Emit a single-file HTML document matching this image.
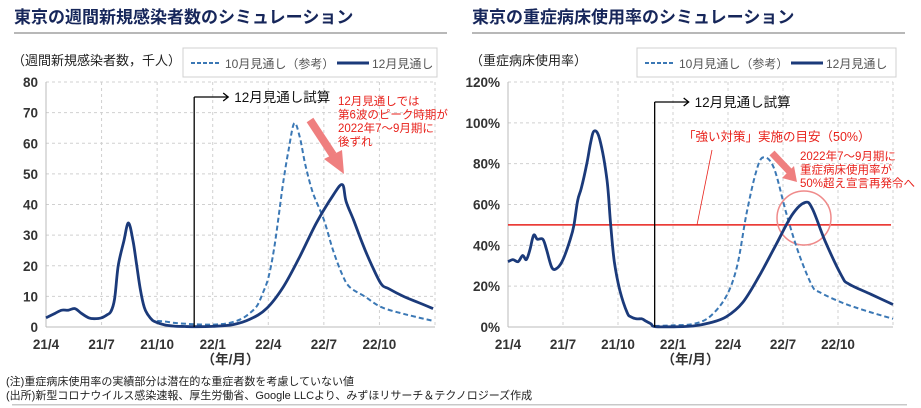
<!DOCTYPE html>
<html><head><meta charset="utf-8">
<style>
body{margin:0;background:#fff;width:921px;height:408px;overflow:hidden;font-family:"Liberation Sans","Noto Sans CJK JP",sans-serif;}
svg{display:block}
text{font-family:"Liberation Sans","Noto Sans CJK JP",sans-serif;}
</style></head>
<body>
<svg id="root" width="921" height="408"></svg>
<script>
// ---- Left chart data (months since 2021/4, weekly new cases in thousand) ----
const leftSolidMonths = [0,0.5,0.85,1.2,1.56,1.9,2.3,2.6,3.0,3.3,3.5,3.7,3.9,4.2,4.45,4.7,4.9,5.1,5.3,5.5,5.75,5.98,6.4,6.9,7.5,8.1,9.0,10.1,11.0,11.9,12.8,13.7,14.6,15.5,16.0,16.2,16.6,17.1,17.6,18.1,18.5,19.3,20.1,20.9];
const leftSolidValues = [3,4.5,5.5,5.5,6,4.5,3,2.7,3,4,5,9,20,28,34,28,20,12,6.5,4,2.2,1.5,0.7,0.3,0.15,0.1,0.2,0.8,2.5,6,13,23,34,43,46.5,41,35,27,20,14,12.5,10,8,6];
const leftDashMonths = [6.0,6.4,7.0,8.0,9.0,9.8,10.5,11.0,11.4,11.7,12.0,12.3,12.6,12.8,13.1,13.4,13.7,14.0,14.4,15.0,15.5,16.0,16.4,17.2,18.1,19.5,20.9];
const leftDashValues = [2,1.8,1.3,0.9,0.8,1.2,2.5,4.5,7,11,16,25,38,47,58,66.5,62,53,44,35,25,17,13,10,6.5,4,2];
const leftYTicks = [0,10,20,30,40,50,60,70,80];
// ---- Right chart data (months since 2021/4, ICU bed usage %) ----
const rightSolidMonths = [0,0.27,0.55,0.8,1.0,1.2,1.4,1.6,1.9,2.1,2.4,2.7,3.0,3.4,3.6,3.8,4.0,4.3,4.5,4.7,5.0,5.4,5.6,5.8,6.1,6.5,6.7,7.0,7.3,7.5,7.8,8.0,9.0,10.1,11.0,11.9,12.8,13.7,14.6,15.5,16.2,16.6,17.3,18.2,18.6,19.8,21.0];
const rightSolidValues = [32,33,32,35,33,38,45,43,43,38,29,29,33,43,50,62,68,80,90,96,92,72,50,32,18,7,5,4,4,3,1.5,0.2,0.1,0.5,2,5,12,25,40,55,61,58,42,25,21,16,11];
const rightDashMonths = [8.0,9.0,10.1,11.0,11.9,12.5,13.0,13.5,13.9,14.5,15.2,15.9,16.6,17.0,18.2,19.5,21.0];
const rightDashValues = [0.5,0.8,1.5,5,15,30,55,75,83,78,55,35,20,17,12,8,4];
const rightYTicks = [0,20,40,60,80,100,120];
const xTickLabels = ["21/4","21/7","21/10","22/1","22/4","22/7","22/10"];
const xTickMonths = [0,3,6,9,12,15,18];

const NS="http://www.w3.org/2000/svg";
const root=document.getElementById('root');
function el(tag,attrs,parent){const e=document.createElementNS(NS,tag);for(const k in attrs)e.setAttribute(k,attrs[k]);(parent||root).appendChild(e);return e;}
function txt(s,attrs,parent){const e=el('text',attrs,parent);e.textContent=s;return e;}
function smoothPath(p){
  let d='M'+p[0][0].toFixed(1)+','+p[0][1].toFixed(1);
  for(let i=0;i<p.length-1;i++){
    const p0=p[i-1]||p[i],p1=p[i],p2=p[i+1],p3=p[i+2]||p2;
    const c1=[p1[0]+(p2[0]-p0[0])/6,p1[1]+(p2[1]-p0[1])/6];
    const c2=[p2[0]-(p3[0]-p1[0])/6,p2[1]-(p3[1]-p1[1])/6];
    d+=' C'+c1.map(v=>v.toFixed(1)).join(',')+' '+c2.map(v=>v.toFixed(1)).join(',')+' '+p2.map(v=>v.toFixed(1)).join(',');
  }
  return d;
}

function drawChart(cfg){
  const g=el('g',{});
  
  
  const X=m=>cfg.x0+(cfg.x1-cfg.x0)*m/21;
  const Y=v=>cfg.yb-(cfg.yb-cfg.yt)*v/cfg.ymax;
  const t=txt(cfg.title,{x:cfg.tx,y:23,'font-size':17,'font-weight':'bold',fill:'#16265a'},g);
  
  el('rect',{x:cfg.tx,y:32,width:cfg.tw,height:2,fill:'#b8b8b8'},g);
  cfg.yticks.forEach(v=>{
    if(v>0){const l=el('line',{x1:cfg.x0,x2:cfg.x1,y1:Y(v),y2:Y(v),stroke:'#d0d0d0','stroke-dasharray':'3,3','stroke-width':1},g);
      }
    const lab=txt(cfg.fmt(v),{x:cfg.x0-8,y:Y(v)+5,'font-size':13.5,'font-weight':'bold','text-anchor':'end',fill:'#333'},g);
    
  });
  xTickMonths.forEach((m,i)=>{
    if(m>0){const l=el('line',{x1:X(m),x2:X(m),y1:cfg.yt,y2:cfg.yb,stroke:'#d0d0d0','stroke-dasharray':'3,3'},g);
      }
    const lab=txt(xTickLabels[i],{x:X(m),y:cfg.yb+22,'font-size':13.5,'font-weight':'bold','text-anchor':'middle',fill:'#333'},g);
    
  });
  el('line',{x1:X(21),x2:X(21),y1:cfg.yt,y2:cfg.yb,stroke:'#d0d0d0','stroke-dasharray':'3,3'},g);
  el('line',{x1:cfg.x0,x2:cfg.x1,y1:cfg.yt,y2:cfg.yt,stroke:'#d0d0d0','stroke-dasharray':'3,3'},g);
  el('line',{x1:cfg.x0,x2:cfg.x0,y1:cfg.yt,y2:cfg.yb,stroke:'#bbb'},g);
  el('line',{x1:cfg.x0,x2:cfg.x1,y1:cfg.yb,y2:cfg.yb,stroke:'#bbb'},g);
  const xl=txt('（年/月）',{x:(X(9)+X(12))/2-10,y:cfg.yb+37,'font-size':13.5,'font-weight':'bold','text-anchor':'middle',fill:'#333'},g);
  
  const yl=txt(cfg.ylabel,{x:cfg.tx-2,y:65,'font-size':13,fill:'#222'},g);
  
  const lg=el('g',{},g);
  
  el('rect',{x:cfg.lx,y:48,width:cfg.lw,height:29,fill:'#fff',stroke:'#d0d0d0'},lg);
  el('line',{x1:cfg.lx+8,x2:cfg.lx+38,y1:63,y2:63,stroke:'#3b78b5','stroke-width':2,'stroke-dasharray':'4,2'},lg);
  const l1=txt('10月見通し（参考）',{x:cfg.lx+42,y:68,'font-size':12,fill:'#555'},lg);
  
  el('line',{x1:cfg.lx+154,x2:cfg.lx+186,y1:63,y2:63,stroke:'#1b3a7a','stroke-width':3},lg);
  const l2=txt('12月見通し',{x:cfg.lx+189,y:68,'font-size':12,fill:'#555'},lg);
  
  cfg.extra && cfg.extra(g,X,Y);
  const pts=(ms,vs)=>ms.map((m,i)=>[X(m),Y(vs[i])]);
  const d=el('path',{d:smoothPath(pts(cfg.dm,cfg.dv)),fill:'none',stroke:'#3b78b5','stroke-width':2,'stroke-dasharray':'5,3'},g);
  
  const s=el('path',{d:smoothPath(pts(cfg.sm,cfg.sv)),fill:'none',stroke:'#1b3a7a','stroke-width':2.8,'stroke-linejoin':'round'},g);
  
  const fx=X(8.0);
  const mk=el('g',{},g);
  
  el('line',{x1:fx,x2:fx,y1:cfg.my,y2:cfg.yb,stroke:'#000','stroke-width':1.3},mk);
  el('line',{x1:fx,x2:fx+34,y1:cfg.my,y2:cfg.my,stroke:'#000','stroke-width':1.3},mk);
  el('polyline',{points:`${fx+29},${cfg.my-4} ${fx+34},${cfg.my} ${fx+29},${cfg.my+4}`,fill:'none',stroke:'#000','stroke-width':1.3},mk);
  txt('12月見通し試算',{x:fx+40,y:cfg.my+5,'font-size':13.5,fill:'#111'},mk);
}

drawChart({name:'weekly-cases-chart',title:'東京の週間新規感染者数のシミュレーション',tx:14,tw:433,
  x0:46,x1:435,yt:82,yb:327,ymax:80,yticks:leftYTicks,fmt:v=>String(v),ylabel:'（週間新規感染者数，千人）',
  lx:183,lw:254,sm:leftSolidMonths,sv:leftSolidValues,dm:leftDashMonths,dv:leftDashValues,my:97,
  extra:(g,X,Y)=>{
    const a=el('g',{},g);
    el('line',{x1:310,y1:120,x2:333,y2:155,stroke:'#ef7f7f','stroke-width':8},a);
    el('polygon',{points:'324,159 344,174 342,150',fill:'#ef7f7f'},a);
    ['12月見通しでは','第6波のピーク時期が','2022年7～9月期に','後ずれ'].forEach((s,i)=>txt(s,{x:338,y:105+i*13.5,'font-size':11.5,fill:'#e8211b'},a));
  }});

drawChart({name:'icu-usage-chart',title:'東京の重症病床使用率のシミュレーション',tx:472,tw:433,
  x0:508,x1:893,yt:82,yb:327,ymax:120,yticks:rightYTicks,fmt:v=>v+'%',ylabel:'（重症病床使用率）',
  lx:637,lw:259,sm:rightSolidMonths,sv:rightSolidValues,dm:rightDashMonths,dv:rightDashValues,my:102,
  extra:(g,X,Y)=>{
    const th=el('line',{x1:X(0),x2:891,y1:Y(50),y2:Y(50),stroke:'#e8211b','stroke-width':1.5},g);
    
    const a=el('g',{},g);
    el('line',{x1:697,y1:Y(50),x2:712,y2:150,stroke:'#e8211b','stroke-width':0.8},a);
    txt('「強い対策」実施の目安（50%）',{x:683,y:141,'font-size':12.5,fill:'#e8211b'},a);
    el('line',{x1:772,y1:153,x2:790,y2:172,stroke:'#ef7f7f','stroke-width':7},a);
    el('polygon',{points:'782,178 797,182 794,166',fill:'#ef7f7f'},a);
    ['2022年7～9月期に','重症病床使用率が','50%超え宣言再発令へ'].forEach((s,i)=>txt(s,{x:800,y:160+i*13.5,'font-size':11.5,fill:'#e8211b'},a));
    el('circle',{cx:804,cy:218,r:27,fill:'none',stroke:'#ef8a8a','stroke-width':1.5},a);
  }});

const n1=txt('(注)重症病床使用率の実績部分は潜在的な重症者数を考慮していない値',{x:6,y:385,'font-size':11,fill:'#222'});

const n2=txt('(出所)新型コロナウイルス感染速報、厚生労働省、Google LLCより、みずほリサーチ＆テクノロジーズ作成',{x:6,y:399,'font-size':11,fill:'#222'});

el('rect',{x:12,y:404,width:895,height:1.5,fill:'#c8c8c8'});
</script>
</body></html>
